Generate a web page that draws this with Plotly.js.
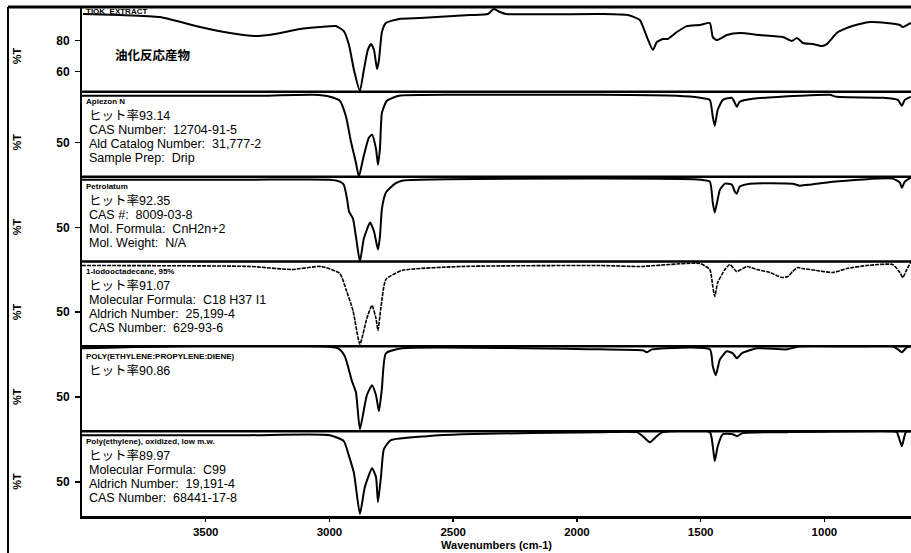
<!DOCTYPE html>
<html><head><meta charset="utf-8">
<script src="https://cdn.plot.ly/plotly-3.0.1.min.js"></script>
<style>html,body{margin:0;padding:0;background:#fff}</style>
</head><body><div id="chart" style="width:911px;height:553px"></div>
<script>
// ---- data (wavenumber cm-1, %T) ----
const wn1=[3996,3846,3685,3523,3402,3301,3220,3119,3038,2974,2942,2921,2901,2877,2861,2845,2832,2820,2808,2800,2788,2772,2719,2634,2432,2360,2336,2311,2287,1907,1794,1746,1717,1693,1677,1653,1633,1596,1556,1503,1463,1451,1435,1394,1342,1261,1168,1132,1111,1087,1047,1010,990,950,909,857,816,748,695,683,651];
const t1=[97.2,96.5,95.2,88.8,84.9,83,84.3,87.5,88.8,89.4,86.2,77.2,61.1,47.5,61.1,74,77.8,74,61.7,67.5,85.6,91.4,94,94.6,96.5,97.2,100.4,98.5,97.2,97.2,96.5,93.3,82.3,74,79.1,81.1,81.1,85.6,89.4,90.1,91.4,82.3,80.4,83.6,84.9,83.6,82.3,79.8,81.7,78.5,77.8,76.5,77.8,84.9,88.2,90.7,92,91.4,90.1,88.8,91.4];

const wn2=[4000,3321,3063,2998,2958,2933,2913,2893,2881,2865,2841,2828,2812,2804,2796,2788,2768,2719,2461,1907,1596,1503,1463,1451,1443,1431,1410,1374,1362,1354,1342,1289,1099,978,950,764,703,687,675,651];
const t2=[97.9,97.9,98.9,96.9,92.8,76.4,50.8,29.3,15,32.4,54.9,58,43.7,27.3,43.7,80.5,92.8,97.9,98.9,98.9,97.9,95.9,93.8,76.4,67.2,83.6,93.8,95.9,90.7,86.6,91.8,94.8,97.9,98.9,96.9,95.9,93.8,87.7,93.8,96.9];

const wn3=[4000,3321,2998,2958,2942,2929,2921,2905,2893,2877,2861,2836,2820,2804,2796,2788,2772,2735,2707,1907,1503,1463,1451,1443,1422,1402,1374,1362,1354,1342,1301,1128,1099,1059,966,724,695,687,675,651];
const t3=[98.9,98.9,98.9,96.9,93.8,79.5,66.2,59,40.6,15,38.5,54.9,45.7,27.3,40.6,69.2,85.6,94.8,97.9,100,98.9,96.9,75.4,65.2,88.7,94.8,93.8,86.6,84.6,91.8,94.8,94.8,92.8,93.8,96.9,100,95.9,90.7,96.9,101];

const wn4=[4000,3321,3152,3034,2958,2933,2905,2877,2849,2828,2812,2804,2792,2772,2707,2465,1907,1746,1503,1463,1451,1443,1431,1402,1382,1354,1313,1273,1220,1172,1148,1128,1107,1087,1031,966,909,829,724,695,683,667,651];
const t4=[97.9,96.9,93.8,96.9,89.7,73.3,51.8,17,43.7,57,43.7,31.4,54.9,83.6,92.8,96.9,97.9,96.9,100,93.8,76.4,66.2,80.5,93.8,98.9,91.8,96.9,93.8,90.7,85.6,86.6,91.8,95.9,94.8,92.8,90.7,94.8,97.9,98.9,90.7,85.6,93.8,101];

const wn5=[4000,2966,2938,2909,2893,2877,2849,2828,2812,2800,2788,2772,2707,1907,1734,1717,1697,1463,1451,1439,1422,1394,1370,1354,1334,1273,1152,1099,909,724,703,687,667,651];
const t5=[100,100,91.8,66.2,54.9,17,51.8,62.1,51.8,35.5,59,94.8,100,98.9,97.9,95.9,98.9,98.9,81.5,72.3,88.7,96.9,94.8,89.7,94.8,100,98.9,102,102,102,98.9,95.9,101,102];

const wn6=[4000,3321,2998,2942,2921,2901,2877,2857,2828,2812,2804,2792,2780,2752,2606,2465,1907,1758,1734,1705,1677,1653,1463,1451,1443,1431,1410,1370,1354,1330,1152,724,707,687,671,651];
const t6=[97.9,97.9,97.9,91.8,76.4,59,17,44.7,64.1,54.9,29.3,54.9,83.6,92.8,96.9,98.9,101,101,96.9,90.7,96.9,101,101,86.6,71.3,86.6,98.9,98.9,96.9,100,101,102,101,86.6,101,102];

const xTickVals=[3500,3000,2500,2000,1500,1000];
const xTickText=["3500","3000","2500","2000","1500","1000"];
const xTitle="Wavenumbers (cm-1)";
const yTitle="%T";
const panel1Ticks=[60,80];
const panelTicks=[50];

const titles=["TIOK_EXTRACT","Apiezon N","Petrolatum","1-Iodooctadecane, 95%","POLY(ETHYLENE:PROPYLENE:DIENE)","Poly(ethylene), oxidized, low m.w."];
const sampleName="油化反応産物";
const hitRates=["","ヒット率93.14","ヒット率92.35","ヒット率91.07","ヒット率90.86","ヒット率89.97"];
const info2=["CAS Number:\u00a0 12704-91-5","Ald Catalog Number:\u00a0 31,777-2","Sample Prep:\u00a0 Drip"];
const info3=["CAS #:\u00a0 8009-03-8","Mol. Formula:\u00a0 CnH2n+2","Mol. Weight:\u00a0 N/A"];
const info4=["Molecular Formula:\u00a0 C18 H37 I1","Aldrich Number:\u00a0 25,199-4","CAS Number:\u00a0 629-93-6"];
const info5=[];
const info6=["Molecular Formula:\u00a0 C99","Aldrich Number:\u00a0 19,191-4","CAS Number:\u00a0 68441-17-8"];

// ---- build ----
const W=911,H=553,L=82,R=0,T=7,B=37;
const PW=W-L-R, PH=H-T-B;
const px=x=>(x-L)/PW, py=y=>(H-B-y)/PH;
const FONT="Liberation Sans, Arial, 'Noto Sans CJK JP', sans-serif";

const wns=[wn1,wn2,wn3,wn4,wn5,wn6], ts=[t1,t2,t3,t4,t5,t6];
const infos=[[],info2,info3,info4,info5,info6];
const traces=wns.map((w,i)=>({
  x:w, y:ts[i], type:'scatter', mode:'lines',
  xaxis:'x', yaxis: i===0?'y':'y'+(i+1),
  line:{color:'#000', width: i===3?1.6:2, shape:'spline', smoothing:0.5, dash: i===3?'4px,1px':'solid'},
  hoverinfo:'skip', showlegend:false
}));

const layout={
  width:W, height:H, margin:{l:L,r:R,t:T,b:B},
  paper_bgcolor:'#fff', plot_bgcolor:'#fff', showlegend:false,
  font:{family:FONT, color:'#000'},
  xaxis:{anchor:'y6', domain:[0,1], range:[4000,650], showgrid:false, zeroline:false,
    showline:true, linecolor:'#000', linewidth:3, ticks:'outside', ticklen:3, tickwidth:1.5, tickcolor:'#000',
    tickvals:xTickVals, ticktext:xTickText,
    tickfont:{family:FONT, size:11.5, weight:'bold', color:'#000'},
    title:{text:xTitle, font:{family:FONT, size:11, weight:'bold', color:'#000'}, standoff:5}},
  annotations:[], shapes:[]
};
for(let i=0;i<6;i++){
  const key = i===0?'yaxis':'yaxis'+(i+1);
  const d0=1-(i+1)/6, d1=1-i/6;
  layout[key]={anchor:'x', domain:[d0,d1], range: i===0?[47,101.7]:[15,102],
    tickvals: i===0?panel1Ticks:panelTicks, showgrid:false, zeroline:false,
    showline:true, linecolor:'#000', linewidth:2, ticks:'outside', ticklen:5, tickwidth:1.5, tickcolor:'#000',
    ticklabelstandoff:3,
    tickfont:{family:FONT, size:12, weight:'bold', color:'#000'}};
  layout.annotations.push({xref:'paper', yref: i===0?'y':'y'+(i+1), x:px(17), y: i===0?70:50,
    text:yTitle, textangle:-90, showarrow:false, xanchor:'center', yanchor:'middle',
    font:{family:FONT, size:11, weight:'bold', color:'#000'}});
  const top=T+i*PH/6;
  layout.annotations.push({xref:'paper', yref:'paper', x:px(84), y:py(top+(i===0?5:10)), text:titles[i],
    showarrow:false, xanchor:'left', yanchor:'middle', font:{family:FONT, size:8, weight:'bold', color:'#000'}});
  if(i===0){
    layout.annotations.push({xref:'paper', yref:'paper', x:px(113), y:py(55), text:sampleName,
      showarrow:false, xanchor:'left', yanchor:'middle', font:{family:"'Noto Sans CJK JP', sans-serif", size:12.5, weight:'bold', color:'#000'}});
  } else {
    const lines=[hitRates[i]].concat(infos[i]);
    lines.forEach((t,j)=>{
      layout.annotations.push({xref:'paper', yref:'paper', x:px(87), y:py(top+24.5+14*j), text:t,
        showarrow:false, xanchor:'left', yanchor:'middle', font:{family:FONT, size:12.5, color:'#000'}});
    });
  }
  if(i>0){
    layout.shapes.push({type:'line', xref:'paper', yref:'paper', x0:0, x1:1, y0:d1, y1:d1, line:{color:'#000', width:2.5}});
  }
}
// outer frame
layout.shapes.push({type:'line', xref:'paper', yref:'paper', x0:px(8), x1:1, y0:1, y1:1, line:{color:'#000', width:3}});
layout.shapes.push({type:'line', xref:'paper', yref:'paper', x0:px(8), x1:px(8), y0:1, y1:py(553), line:{color:'#000', width:2}});

Plotly.newPlot('chart', traces, layout, {staticPlot:true, displayModeBar:false});
</script></body></html>
